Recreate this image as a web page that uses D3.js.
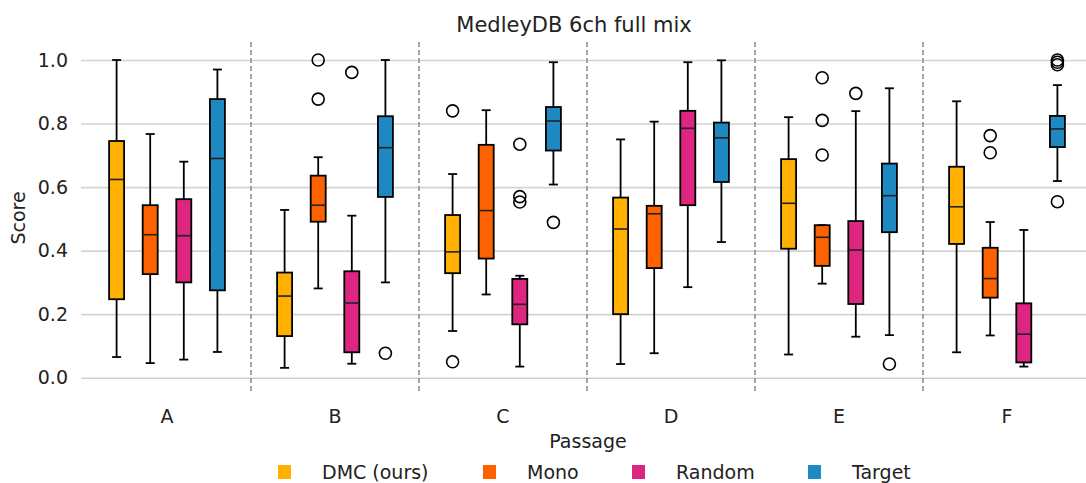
<!DOCTYPE html>
<html>
<head>
<meta charset="utf-8">
<script src="https://cdn.jsdelivr.net/npm/d3@7"></script>
<style>
  body { margin: 0; background: #fff; }
  svg { display: block; font-family: "DejaVu Sans", sans-serif; }
</style>
</head>
<body>
<svg id="chart" width="1086" height="483"></svg>
<script>
// ---- data ----
const passages = ["A", "B", "C", "D", "E", "F"];
const seriesNames = ["DMC (ours)", "Mono", "Random", "Target"];
const seriesColors = ["#FFB000", "#FE6100", "#DC267F", "#1E88C0"];
const yTicks = [0.0, 0.2, 0.4, 0.6, 0.8, 1.0];

// each entry: [lower whisker, Q1, median, Q3, upper whisker]
const dmcStats = [
  [0.065, 0.247, 0.624, 0.745, 1.000],
  [0.031, 0.131, 0.257, 0.331, 0.528],
  [0.147, 0.329, 0.396, 0.512, 0.641],
  [0.043, 0.200, 0.468, 0.567, 0.750],
  [0.073, 0.406, 0.549, 0.688, 0.820],
  [0.080, 0.421, 0.538, 0.664, 0.870]
];
const monoStats = [
  [0.046, 0.326, 0.450, 0.543, 0.767],
  [0.281, 0.491, 0.543, 0.636, 0.694],
  [0.262, 0.375, 0.526, 0.733, 0.842],
  [0.077, 0.345, 0.516, 0.541, 0.806],
  [0.296, 0.352, 0.442, 0.480, 0.480],
  [0.133, 0.252, 0.312, 0.409, 0.490]
];
const randomStats = [
  [0.057, 0.300, 0.447, 0.562, 0.680],
  [0.044, 0.080, 0.235, 0.335, 0.510],
  [0.035, 0.168, 0.231, 0.311, 0.321],
  [0.285, 0.543, 0.785, 0.840, 0.993],
  [0.129, 0.232, 0.402, 0.493, 0.839],
  [0.035, 0.048, 0.137, 0.234, 0.465]
];
const targetStats = [
  [0.081, 0.275, 0.690, 0.877, 0.970],
  [0.300, 0.569, 0.724, 0.823, 1.000],
  [0.608, 0.715, 0.808, 0.852, 0.993],
  [0.427, 0.616, 0.755, 0.803, 0.999],
  [0.134, 0.458, 0.573, 0.674, 0.911],
  [0.619, 0.726, 0.783, 0.824, 0.921]
];
// outliers per passage
const dmcOutliers = [[], [], [0.840, 0.050], [], [], []];
const monoOutliers = [[], [1.000, 0.877], [], [], [0.944, 0.810, 0.701], [0.762, 0.708]];
const randomOutliers = [[], [0.961], [0.735, 0.570, 0.553], [], [0.895], []];
const targetOutliers = [[], [0.077], [0.489], [], [0.043], [1.000, 0.993, 0.985, 0.554]];

const allStats = [dmcStats, monoStats, randomStats, targetStats];
const allOutliers = [dmcOutliers, monoOutliers, randomOutliers, targetOutliers];

// ---- layout ----
const svg = d3.select("#chart");
const x = d3.scaleBand().domain(passages).range([83, 1091]).padding(0);
const xs = d3.scaleBand().domain(seriesNames).range([-0.4 * x.bandwidth(), 0.4 * x.bandwidth()]).padding(0);
const y = d3.scaleLinear().domain([0, 1]).range([377.7, 60]);
const boxW = 15, capW = 9;
const FS = 19;

// gridlines + y axis
const yAxis = d3.axisLeft(y).tickValues(yTicks).tickFormat(d3.format(".1f")).tickSize(-(1086 - 81)).tickPadding(13);
const gy = svg.append("g").attr("transform", "translate(81,0)").call(yAxis);
gy.select(".domain").remove();
gy.selectAll(".tick line").attr("stroke", "#d3d3d3").attr("stroke-width", 1.6);
gy.selectAll(".tick text").attr("font-size", FS).attr("fill", "#222").attr("font-family", "DejaVu Sans");

// x axis labels
const xAxis = d3.axisBottom(x).tickSize(0).tickPadding(0);
const gx = svg.append("g").attr("transform", "translate(0,423)").call(xAxis);
gx.select(".domain").remove();
gx.selectAll(".tick text").attr("font-size", FS).attr("fill", "#222").attr("font-family", "DejaVu Sans").attr("dy", 0);

// dividers
svg.append("g").selectAll("line").data(passages.slice(1)).join("line")
  .attr("x1", d => x(d)).attr("x2", d => x(d))
  .attr("y1", 42).attr("y2", 394)
  .attr("stroke", "#888").attr("stroke-width", 1.5).attr("stroke-dasharray", "5,3");

// boxes
const plot = svg.append("g");
seriesNames.forEach((s, si) => {
  passages.forEach((p, pi) => {
    const st = allStats[si][pi];
    const cx = x(p) + x.bandwidth() / 2 + xs(s) + xs.bandwidth() / 2;
    const g = plot.append("g");
    g.append("line").attr("x1", cx).attr("x2", cx).attr("y1", y(st[0])).attr("y2", y(st[1]))
      .attr("stroke", "#000").attr("stroke-width", 1.8);
    g.append("line").attr("x1", cx).attr("x2", cx).attr("y1", y(st[3])).attr("y2", y(st[4]))
      .attr("stroke", "#000").attr("stroke-width", 1.8);
    [st[0], st[4]].forEach(v => {
      g.append("line").attr("x1", cx - capW / 2).attr("x2", cx + capW / 2).attr("y1", y(v)).attr("y2", y(v))
        .attr("stroke", "#000").attr("stroke-width", 1.8);
    });
    g.append("rect").attr("x", cx - boxW / 2).attr("width", boxW)
      .attr("y", y(st[3])).attr("height", y(st[1]) - y(st[3]))
      .attr("fill", seriesColors[si]).attr("stroke", "#000").attr("stroke-width", 1.8);
    g.append("line").attr("x1", cx - boxW / 2).attr("x2", cx + boxW / 2).attr("y1", y(st[2])).attr("y2", y(st[2]))
      .attr("stroke", "#222").attr("stroke-width", 1.6);
    g.selectAll("circle").data(allOutliers[si][pi]).join("circle")
      .attr("cx", cx).attr("cy", d => y(d)).attr("r", 6)
      .attr("fill", "none").attr("stroke", "#000").attr("stroke-width", 1.6);
  });
});

// title
svg.append("text").attr("x", 574).attr("y", 32).attr("text-anchor", "middle")
  .attr("font-size", 21).attr("fill", "#222").text("MedleyDB 6ch full mix");
// axis titles
svg.append("text").attr("transform", "translate(25,218) rotate(-90)").attr("text-anchor", "middle")
  .attr("font-size", FS).attr("fill", "#222").text("Score");
svg.append("text").attr("x", 588).attr("y", 448).attr("text-anchor", "middle")
  .attr("font-size", FS).attr("fill", "#222").text("Passage");

// legend
const legendX = [278, 483, 632, 808];
const lg = svg.append("g");
seriesNames.forEach((s, i) => {
  lg.append("rect").attr("x", legendX[i]).attr("y", 465).attr("width", 13).attr("height", 14)
    .attr("fill", seriesColors[i]);
  lg.append("text").attr("x", legendX[i] + 44).attr("y", 479).attr("font-size", FS).attr("fill", "#222").text(s);
});
</script>
</body>
</html>
